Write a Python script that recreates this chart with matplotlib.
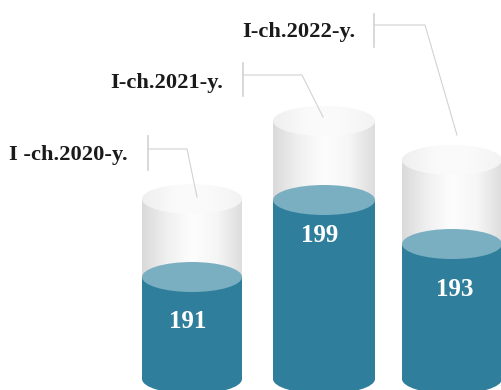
import numpy as np
import matplotlib
matplotlib.use('Agg')
import matplotlib.pyplot as plt
from matplotlib.patches import Ellipse, Rectangle, PathPatch
from matplotlib.path import Path
from matplotlib.colors import LinearSegmentedColormap

# data
periods = ['I -ch.2020-y.', 'I-ch.2021-y.', 'I-ch.2022-y.']
values = [191, 199, 193]
fill_tops = [277, 200, 244]      # drawn level of the liquid (image y)
cyl_tops = [199, 121, 160]       # drawn top of the glass (image y)

# layout
cyl_left = [142, 273, 402]
cyl_width = [100, 102, 100]
ry = 15
bottom_y = 379
value_x = [188, 320, 455]
value_y = [321, 235, 289]
label_right = [128, 223, 355]
label_y = [155, 83, 32]
leaders = [
    ((148, 136, 170), (149, 187), (197, 197)),
    ((243, 63, 96), (75, 302), (323, 117)),
    ((374, 14, 47), (25, 425), (457, 135)),
]

BLUE = '#2f7f9c'
BLUE_TOP = '#7aafc2'
LEADER = '#d2d2d2'

glass = LinearSegmentedColormap.from_list('glass', ['#dadada', '#f0f0f0', '#fdfdfd', '#f6f6f6', '#dddddd'])
glass_top = LinearSegmentedColormap.from_list('glass_top', ['#efefef', '#fafafa', '#fafafa', '#f3f3f3'])
grad = np.linspace(0, 1, 200).reshape(1, -1)

fig = plt.figure(figsize=(5.01, 3.9), dpi=100)
ax = fig.add_axes([0, 0, 1, 1])
ax.set_xlim(0, 501)
ax.set_ylim(390, 0)
ax.axis('off')


def body_path(x0, x1, y_top, y_bot):
    # side walls with a rounded lower edge
    k = 0.5523
    cx = (x0 + x1) / 2
    rx = (x1 - x0) / 2
    verts = [(x0, y_top), (x0, y_bot),
             (x0, y_bot + k * ry), (cx - k * rx, y_bot + ry), (cx, y_bot + ry),
             (cx + k * rx, y_bot + ry), (x1, y_bot + k * ry), (x1, y_bot),
             (x1, y_top), (x0, y_top)]
    codes = [Path.MOVETO, Path.LINETO,
             Path.CURVE4, Path.CURVE4, Path.CURVE4,
             Path.CURVE4, Path.CURVE4, Path.CURVE4,
             Path.LINETO, Path.CLOSEPOLY]
    return Path(verts, codes)


for i in range(3):
    x0 = cyl_left[i]
    x1 = x0 + cyl_width[i]
    cx = (x0 + x1) / 2

    # glass body, gradient clipped to the wall
    im = ax.imshow(grad, cmap=glass, extent=(x0, x1, bottom_y, cyl_tops[i]), aspect='auto', zorder=1, vmin=0, vmax=1)
    clip = Rectangle((x0, cyl_tops[i]), cyl_width[i], fill_tops[i] - cyl_tops[i], transform=ax.transData)
    im.set_clip_path(clip)

    # glass top
    im2 = ax.imshow(grad, cmap=glass_top, extent=(x0, x1, cyl_tops[i] + ry, cyl_tops[i] - ry), aspect='auto', zorder=2, vmin=0, vmax=1)
    im2.set_clip_path(Ellipse((cx, cyl_tops[i]), cyl_width[i], 2 * ry, transform=ax.transData))

    # liquid
    ax.add_patch(PathPatch(body_path(x0, x1, fill_tops[i], bottom_y), fc=BLUE, ec='none', zorder=3))
    ax.add_patch(Ellipse((cx, fill_tops[i]), cyl_width[i], 2 * ry, fc=BLUE_TOP, ec='none', zorder=4))

    ax.text(value_x[i], value_y[i], str(values[i]), color='white', fontsize=18, fontweight='bold',
            family='Liberation Serif', ha='center', va='center', zorder=5)
    ax.text(label_right[i], label_y[i], periods[i], color='#1a1a1a', fontsize=16.2, fontweight='bold',
            family='Liberation Serif', ha='right', va='center', zorder=5)

    (vx, vy0, vy1), (hy, hx), end = leaders[i]
    ax.plot([vx, vx], [vy0, vy1], color=LEADER, lw=1.2, zorder=6)
    ax.plot([vx, hx, end[0]], [hy, hy, end[1]], color=LEADER, lw=0.8, zorder=6)

ax.set_xlim(0, 501)
ax.set_ylim(390, 0)
fig.savefig('out.png', dpi=100)
